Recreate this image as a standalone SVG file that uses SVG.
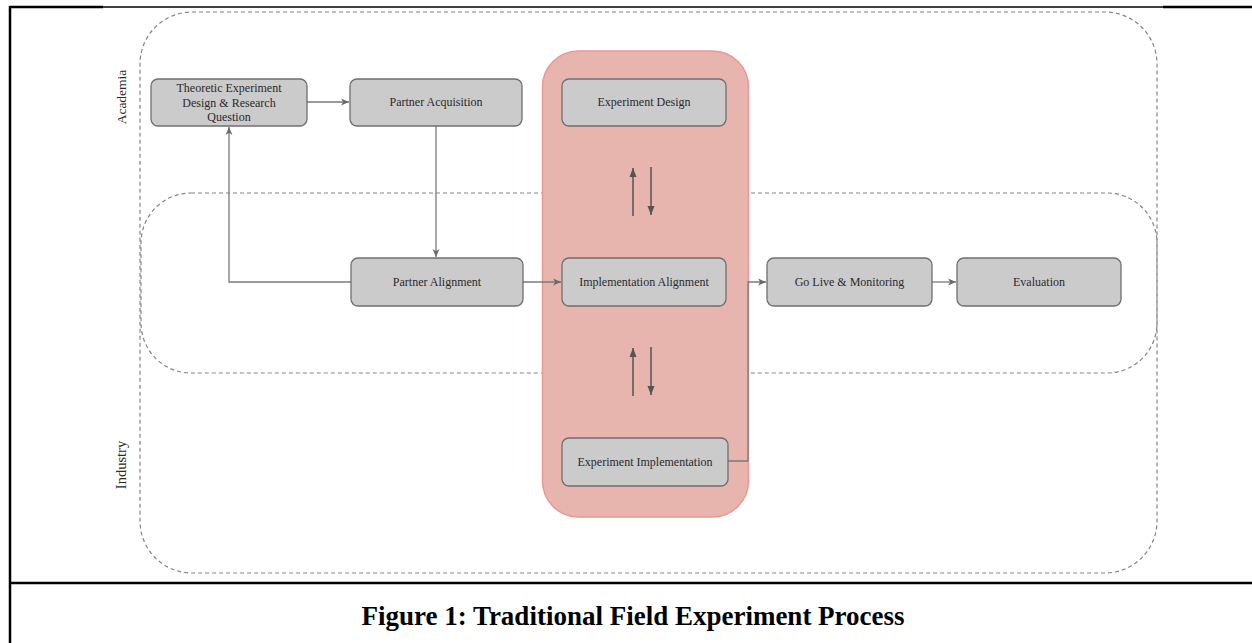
<svg xmlns="http://www.w3.org/2000/svg" width="1252" height="643" viewBox="0 0 1252 643">
  <defs>
    <style>
      .frame { stroke: #000; fill: none; }
      .zone { fill: none; stroke: #858585; stroke-width: 1.2; stroke-dasharray: 4 3; }
      .box { fill: #cbcbcb; stroke: #6f6f6f; stroke-width: 1.3; }
      .lbl { font-family: "Liberation Serif", "Times New Roman", serif; font-size: 12px; fill: #2a2a2a; text-anchor: middle; }
      .lane { font-family: "Liberation Serif", "Times New Roman", serif; fill: #2a2a2a; text-anchor: middle; }
      .conn { fill: none; stroke: #7a7a7a; stroke-width: 1.3; }
      .bi { fill: none; stroke: #5a5a5a; stroke-width: 1.6; }
    </style>
    <marker id="arr" markerWidth="10" markerHeight="8" refX="8" refY="4" orient="auto" markerUnits="userSpaceOnUse">
      <path d="M0,0.5 L8,4 L0,7.5 L2.2,4 Z" fill="#6a6a6a"/>
    </marker>
    <marker id="blk" markerWidth="10" markerHeight="10" refX="9" refY="4" orient="auto" markerUnits="userSpaceOnUse">
      <path d="M0,0.5 L9,4 L0,7.5 Z" fill="#555"/>
    </marker>
  </defs>

  <g id="frame">
    <line class="frame" x1="10" y1="7" x2="103" y2="7" stroke-width="2.5"/>
    <line class="frame" x1="103" y1="7" x2="1163" y2="7" stroke-width="1.4"/>
    <line class="frame" x1="1163" y1="7" x2="1252" y2="7" stroke-width="2.5"/>
    <line class="frame" x1="10" y1="6" x2="10" y2="643" stroke-width="2.5"/>
    <line class="frame" x1="10" y1="583" x2="1252" y2="583" stroke-width="2.5"/>
  </g>

  <g id="caption">
    <text x="633" y="625" font-family="'Liberation Serif', 'Times New Roman', serif" font-size="27" font-weight="bold" text-anchor="middle" fill="#000">Figure 1: Traditional Field Experiment Process</text>
  </g>

  <g id="zones">
    <rect id="zone-academia-industry" class="zone" x="140" y="12" width="1017" height="561" rx="52" ry="52"/>
    <rect id="zone-alignment" class="zone" x="141" y="193" width="1016" height="180" rx="50" ry="50"/>
    <text class="lane" font-size="13.5" transform="translate(126,97) rotate(-90)">Academia</text>
    <text class="lane" font-size="14.5" transform="translate(126,465) rotate(-90)">Industry</text>
  </g>

  <g id="joint-phase">
    <rect x="542.5" y="51" width="206" height="466" rx="36" ry="36" fill="#e7b5ad" stroke="#ea9893" stroke-width="1.5"/>
  </g>

  <g id="connectors">
    <line class="conn" x1="307" y1="102" x2="349" y2="102" marker-end="url(#arr)"/>
    <line class="conn" x1="436" y1="126" x2="436" y2="257" marker-end="url(#arr)"/>
    <polyline class="conn" points="351,282 229,282 229,127" marker-end="url(#arr)"/>
    <line class="conn" x1="523" y1="282" x2="561" y2="282" marker-end="url(#arr)"/>
    <polyline class="conn" points="728,461 748,461 748,282 766,282" marker-end="url(#arr)"/>
    <line class="conn" x1="932" y1="282" x2="956" y2="282" marker-end="url(#arr)"/>
    <line class="bi" x1="633" y1="216" x2="633" y2="168" marker-end="url(#blk)"/>
    <line class="bi" x1="651" y1="167" x2="651" y2="215" marker-end="url(#blk)"/>
    <line class="bi" x1="633" y1="396" x2="633" y2="348" marker-end="url(#blk)"/>
    <line class="bi" x1="651" y1="347" x2="651" y2="395" marker-end="url(#blk)"/>
  </g>

  <g id="node-theoretic">
    <rect class="box" x="151" y="79" width="156" height="47" rx="7"/>
    <text class="lbl" x="229" y="92">Theoretic Experiment</text>
    <text class="lbl" x="229" y="106.5">Design &amp; Research</text>
    <text class="lbl" x="229" y="121">Question</text>
  </g>
  <g id="node-partner-acquisition">
    <rect class="box" x="350" y="79" width="172" height="47" rx="7"/>
    <text class="lbl" x="436" y="106">Partner Acquisition</text>
  </g>
  <g id="node-experiment-design">
    <rect class="box" x="562" y="79" width="164" height="47" rx="7"/>
    <text class="lbl" x="644" y="106">Experiment Design</text>
  </g>
  <g id="node-partner-alignment">
    <rect class="box" x="351" y="258" width="172" height="48" rx="7"/>
    <text class="lbl" x="437" y="286">Partner Alignment</text>
  </g>
  <g id="node-implementation-alignment">
    <rect class="box" x="562" y="258" width="164" height="48" rx="7"/>
    <text class="lbl" x="644" y="286">Implementation Alignment</text>
  </g>
  <g id="node-go-live">
    <rect class="box" x="767" y="258" width="165" height="48" rx="7"/>
    <text class="lbl" x="849.5" y="286">Go Live &amp; Monitoring</text>
  </g>
  <g id="node-evaluation">
    <rect class="box" x="957" y="258" width="164" height="48" rx="7"/>
    <text class="lbl" x="1039" y="286">Evaluation</text>
  </g>
  <g id="node-experiment-implementation">
    <rect class="box" x="562" y="438" width="166" height="48" rx="7"/>
    <text class="lbl" x="645" y="466">Experiment Implementation</text>
  </g>
</svg>
